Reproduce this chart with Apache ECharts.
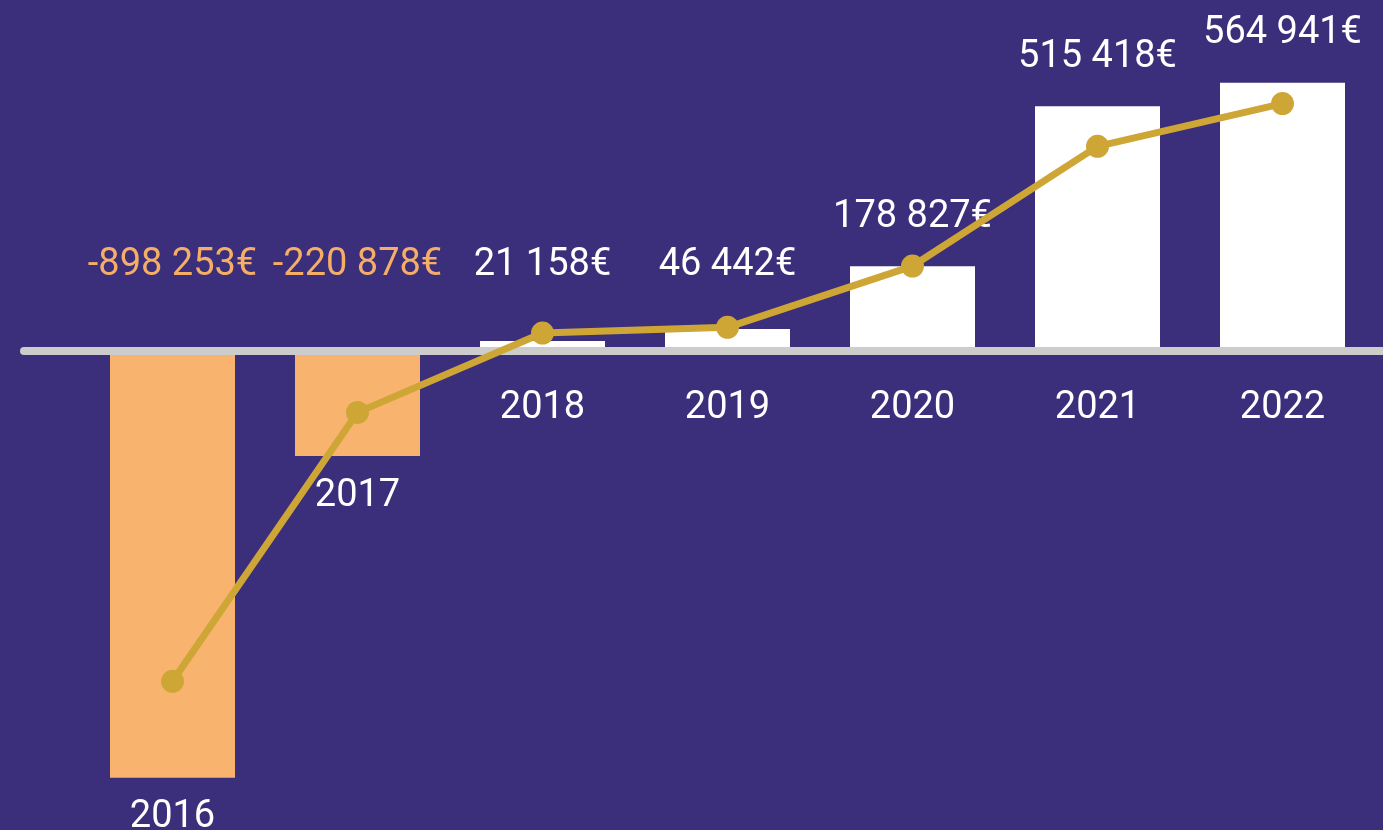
<!DOCTYPE html>
<html>
<head>
<meta charset="utf-8">
<script src="https://cdn.jsdelivr.net/npm/echarts@6/dist/echarts.min.js"></script>
<style>
  html, body { margin: 0; padding: 0; background: #3b2f7c; }
  #chart { width: 1383px; height: 830px; }
</style>
</head>
<body>
<div id="chart"></div>
<script>
// ---- data ----
const years = ['2016', '2017', '2018', '2019', '2020', '2021', '2022'];
const netResult = [-898253, -220878, 21158, 46442, 178827, 515418, 564941];
const trendLine = [-695000, -129000, 38000, 50000, 179000, 431000, 521000];

// ---- style ----
const BG = '#3b2f7c';
const ORANGE = '#f8b46e';
const ORANGE_TEXT = '#f6ad66';
const WHITE = '#ffffff';
const GOLD = '#cea636';
const AXIS_GRAY = '#cccccc';
const FONT = 'Roboto';
const Y_MIN = -1008000, Y_MAX = 739000;

function fmtEuro(v) {
  const s = Math.abs(v).toString().replace(/\B(?=(\d{3})+(?!\d))/g, ' ');
  return (v < 0 ? '-' : '') + s + '€';
}

const chart = echarts.init(document.getElementById('chart'));

function buildValueData(distances) {
  return netResult.map((v, i) => ({
    value: v,
    itemStyle: { color: v < 0 ? ORANGE : WHITE },
    label: {
      color: v < 0 ? ORANGE_TEXT : WHITE,
      distance: distances ? distances[i] : 30
    }
  }));
}

function buildYearData() {
  return netResult.map((v) => ({
    value: v,
    label: { distance: v < 0 ? 20 : 37 }
  }));
}

const option = {
  backgroundColor: BG,
  animation: false,
  grid: [
    { left: 80, right: 8, top: 0, bottom: 0 },
    { left: 24, right: 0, top: 0, bottom: 0 }
  ],
  xAxis: [
    {
      type: 'category', gridIndex: 0, data: years,
      axisLine: { show: false }, axisTick: { show: false }, axisLabel: { show: false }
    },
    {
      type: 'value', gridIndex: 1, min: 0, max: 1, z: 3,
      axisLine: { show: true, onZero: true, lineStyle: { color: AXIS_GRAY, width: 8, cap: 'round' } },
      axisTick: { show: false }, axisLabel: { show: false }, splitLine: { show: false }
    }
  ],
  yAxis: [
    { type: 'value', gridIndex: 0, min: Y_MIN, max: Y_MAX, show: false, splitLine: { show: false } },
    { type: 'value', gridIndex: 1, min: Y_MIN, max: Y_MAX, show: false, splitLine: { show: false } }
  ],
  series: [
    {
      name: 'Résultat net',
      type: 'bar',
      xAxisIndex: 0, yAxisIndex: 0,
      barWidth: 125,
      z: 2,
      data: buildValueData(null),
      label: {
        show: true, position: 'top',
        fontFamily: FONT, fontSize: 38, lineHeight: 40,
        formatter: (p) => fmtEuro(p.value)
      }
    },
    {
      name: 'Année',
      type: 'bar',
      xAxisIndex: 0, yAxisIndex: 0,
      barWidth: 125, barGap: '-100%',
      z: 1,
      itemStyle: { color: 'rgba(0,0,0,0)' },
      data: buildYearData(),
      label: {
        show: true, position: 'bottom',
        color: WHITE, fontFamily: FONT, fontSize: 38, lineHeight: 40,
        formatter: (p) => p.name
      }
    },
    {
      name: 'Tendance',
      type: 'line',
      xAxisIndex: 0, yAxisIndex: 0,
      z: 5,
      data: trendLine,
      symbol: 'circle', symbolSize: 23,
      lineStyle: { color: GOLD, width: 7 },
      itemStyle: { color: GOLD },
      label: { show: false }
    }
  ]
};

chart.setOption(option);

// second pass: keep value labels at least a fixed height above the baseline
const zeroPx = chart.convertToPixel({ yAxisIndex: 0 }, 0);
const distances = netResult.map((v) => {
  if (v < 0) return 66;
  const barH = zeroPx - chart.convertToPixel({ yAxisIndex: 0 }, v);
  return Math.max(29, 66 - barH);
});
chart.setOption({ series: [{ data: buildValueData(distances) }] });
</script>
</body>
</html>
